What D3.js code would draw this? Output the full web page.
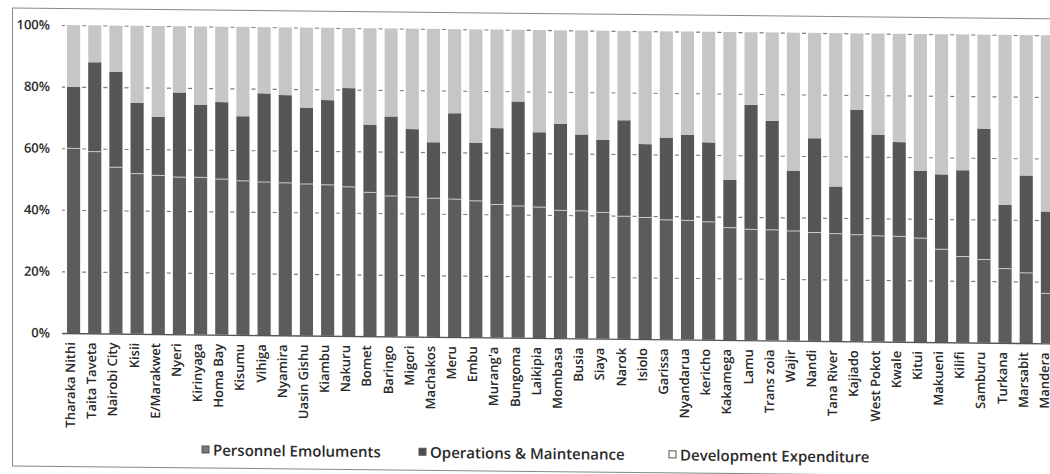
<!DOCTYPE html>
<html>
<head>
<meta charset="utf-8">
<script src="https://cdn.jsdelivr.net/npm/d3@7"></script>
<style>
  html, body { margin: 0; padding: 0; background: #fff; }
  svg { display: block; }
  text { font-family: "Open Sans", "DejaVu Sans", sans-serif; fill: #2a2a2a; }
</style>
</head>
<body>
<svg id="chart" width="1050" height="474"></svg>
<script>
// County budget composition (% of total), ordered by share of personnel emoluments
const counties = [
  "Tharaka Nithi", "Taita Taveta", "Nairobi City", "Kisii", "E/Marakwet", "Nyeri",
  "Kirinyaga", "Homa Bay", "Kisumu", "Vihiga", "Nyamira", "Uasin Gishu", "Kiambu",
  "Nakuru", "Bomet", "Baringo", "Migori", "Machakos", "Meru", "Embu", "Murang'a",
  "Bungoma", "Laikipia", "Mombasa", "Busia", "Siaya", "Narok", "Isiolo", "Garissa",
  "Nyandarua", "kericho", "Kakamega", "Lamu", "Trans zoia", "Wajir", "Nandi",
  "Tana River", "Kajiado", "West Pokot", "Kwale", "Kitui", "Makueni", "Kilifi",
  "Samburu", "Turkana", "Marsabit", "Mandera"
];

const personnel = [
  60, 59, 54, 52, 51.5, 51, 51, 50.5, 50, 49.7, 49.5, 49.2, 49,
  48.4, 46.7, 45.6, 45.3, 45, 44.8, 44.3, 43.2, 42.8, 42.5, 41.5, 41.4, 41,
  39.8, 39.5, 38.8, 38.7, 38.3, 36.5, 36, 35.9, 35.6, 35.2, 34.9, 34.6, 34.3,
  34.2, 33.7, 30.2, 27.9, 27, 24.1, 22.8, 16.2
];

const operations = [
  20, 29, 31, 23, 19, 27.5, 23.5, 25, 21, 28.8, 28.5, 24.8, 27.5,
  32.1, 22, 25.8, 22.1, 18.2, 27.9, 18.9, 24.8, 33.9, 24.3, 28.1, 24.8, 23.5,
  31.2, 23.8, 26.7, 27.8, 25.8, 15.5, 40.4, 35.4, 19.6, 30.6, 15.3, 40.5, 32.9,
  30.6, 21.8, 24.3, 28, 42.5, 20.7, 31.6, 26.6
];

const development = [
  20, 12, 15, 25, 29.5, 21.5, 25.5, 24.5, 29, 21.5, 22, 26, 23.5,
  19.5, 31.3, 28.6, 32.6, 36.8, 27.3, 36.8, 32, 23.3, 33.2, 30.4, 33.8, 35.5,
  29, 36.7, 34.5, 33.5, 35.9, 48, 23.6, 28.7, 44.8, 34.2, 49.8, 24.9, 32.8,
  35.2, 44.5, 45.5, 44.1, 30.5, 55.2, 45.6, 57.2
];

const seriesNames = ["Personnel Emoluments", "Operations & Maintenance", "Development Expenditure"];
const yTicks = [0, 20, 40, 60, 80, 100];

const colors = {
  "Personnel Emoluments": "#5c5c5c",
  "Operations & Maintenance": "#565656",
  "Development Expenditure": "#c6c6c6"
};
const legendFill = {
  "Personnel Emoluments": "#7a7a7a",
  "Operations & Maintenance": "#4e4e4e",
  "Development Expenditure": "#ffffff"
};

const rows = counties.map((c, i) => ({
  county: c,
  "Personnel Emoluments": personnel[i],
  "Operations & Maintenance": operations[i],
  "Development Expenditure": development[i]
}));

const stacked = d3.stack().keys(seriesNames)(rows);

const svg = d3.select("#chart");

// the page sits slightly askew, so the whole drawing is sheared a touch
const angle = 0.6;
const t = Math.tan(angle * Math.PI / 180);
const root = svg.append("g")
  .attr("transform", `translate(0,${(-62 * t).toFixed(3)}) skewY(${angle})`);

// outer frame
root.append("rect")
  .attr("x", 12.5).attr("y", 8.5)
  .attr("width", 1100).attr("height", 458)
  .attr("fill", "none").attr("stroke", "#8a8a8a").attr("stroke-width", 1);

const x = d3.scaleBand()
  .domain(counties)
  .range([63, 1058])
  .paddingInner(0.38)
  .paddingOuter(0.19);

const y = d3.scaleLinear().domain([0, 100]).range([333, 25]);

// gridlines
const grid = root.append("g")
  .attr("transform", "translate(62,0)")
  .call(d3.axisLeft(y).tickValues(yTicks.slice(1)).tickSize(-(1058 - 62)).tickFormat(""));
grid.select(".domain").remove();
grid.selectAll("line").attr("stroke", "#7c7c7c").attr("stroke-width", 1.1);

// white halo around each bar so gridlines only show in the gaps
root.append("g")
  .selectAll("rect")
  .data(counties)
  .join("rect")
  .attr("x", d => x(d) - 2)
  .attr("width", x.bandwidth() + 4)
  .attr("y", y(100) - 1)
  .attr("height", y(0) - y(100) + 1)
  .attr("fill", "#fff");

// stacked bars
root.append("g")
  .selectAll("g")
  .data(stacked)
  .join("g")
  .attr("fill", d => colors[d.key])
  .selectAll("rect")
  .data(d => d)
  .join("rect")
  .attr("x", d => x(d.data.county))
  .attr("width", x.bandwidth())
  .attr("y", d => y(d[1]))
  .attr("height", d => y(d[0]) - y(d[1]));

// light seam where personnel meets operations
root.append("g")
  .selectAll("line")
  .data(stacked[0])
  .join("line")
  .attr("x1", d => x(d.data.county))
  .attr("x2", d => x(d.data.county) + x.bandwidth())
  .attr("y1", d => y(d[1]))
  .attr("y2", d => y(d[1]))
  .attr("stroke", "#c9c9c9")
  .attr("stroke-width", 1);

// y axis labels
const yAxis = root.append("g")
  .attr("transform", "translate(62,0)")
  .call(d3.axisLeft(y).tickValues(yTicks).tickFormat(d => d + "%").tickSize(0).tickPadding(12));
yAxis.select(".domain").remove();
yAxis.selectAll("text")
  .attr("font-size", 13)
  .attr("font-weight", 600)
  .attr("fill", "#2a2a2a");

// x axis with rotated county names
const xAxis = root.append("g")
  .attr("transform", `translate(0,${y(0)})`)
  .call(d3.axisBottom(x).tickSize(0).tickPadding(0));
xAxis.select(".domain")
  .attr("stroke", "#555").attr("stroke-width", 1.3)
  .attr("d", `M62,0.5H1058`);
xAxis.selectAll("text")
  .attr("font-size", 13)
  .attr("font-weight", 600)
  .attr("fill", "#2a2a2a")
  .attr("text-anchor", "end")
  .attr("dy", null)
  .attr("transform", "translate(-3.5,9) rotate(-90)")
  .attr("x", 0)
  .attr("y", 0)
  .attr("dominant-baseline", "central");

// legend
const legendItems = [
  { name: seriesNames[0], x: 202 },
  { name: seriesNames[1], x: 419 },
  { name: seriesNames[2], x: 669 }
];
const legend = root.append("g");
const li = legend.selectAll("g")
  .data(legendItems)
  .join("g")
  .attr("transform", d => `translate(${d.x},448)`);
li.append("rect")
  .attr("x", 0).attr("y", -3.5)
  .attr("width", 7).attr("height", 7)
  .attr("fill", d => legendFill[d.name])
  .attr("stroke", "#555").attr("stroke-width", 1);
li.append("text")
  .attr("x", 11)
  .attr("y", 0)
  .attr("dominant-baseline", "central")
  .attr("font-size", 15)
  .attr("font-weight", 600)
  .text(d => d.name);
</script>
</body>
</html>
